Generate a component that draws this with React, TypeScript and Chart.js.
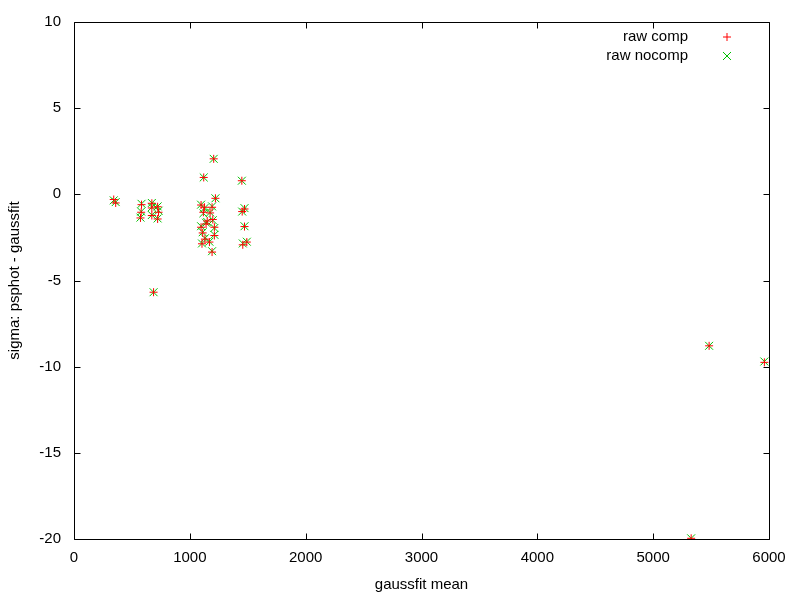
import React, { useEffect, useRef } from "react";
import { Chart, registerables } from "chart.js";

Chart.register(...registerables);

const xValues = [
  343, 360, 583, 580, 574, 672, 672, 672, 722, 730, 722, 687,
  1097, 1126, 1192, 1117, 1175, 1198, 1140, 1097, 1212, 1111, 1212, 1169, 1105, 1192,
  1221, 1120, 1206, 1150, 1130,
  1449, 1472, 1452, 1472, 1457, 1492,
  5483, 5960, 5328,
];
const compValues = [
  -0.3, -0.5, -0.6, -1.04, -1.37, -0.52, -0.79, -1.23, -0.72, -1.04, -1.43, -5.68,
  -0.62, -0.75, -0.75, -1.04, -1.08, -1.46, -1.72, -1.91, -1.91, -2.24, -2.39, -2.77, -2.87, -3.35,
  -0.23, 0.98, 2.06, -1.55, -2.6,
  0.79, -0.85, -1.0, -1.87, -2.93, -2.77,
  -8.79, -9.75, -19.96,
];
const nocompValues = [
  -0.35, -0.45, -0.55, -1.0, -1.35, -0.5, -0.75, -1.2, -0.7, -0.95, -1.4, -5.68,
  -0.6, -0.8, -0.7, -1.1, -1.05, -1.5, -1.65, -1.85, -1.95, -2.2, -2.35, -2.75, -2.85, -3.3,
  -0.23, 0.98, 2.06, -1.6, -2.55,
  0.79, -0.8, -1.0, -1.85, -2.85, -2.75,
  -8.79, -9.7, -19.96,
];
const xTicks = [0, 1000, 2000, 3000, 4000, 5000, 6000];
const yTicks = [-20, -15, -10, -5, 0, 5, 10];
const seriesLabels = ["raw comp", "raw nocomp"];
const seriesColors = ["#ff0000", "#00c000"];
const seriesStyles = ["cross", "crossRot"];
const seriesRadius = [4, 5.6];
const xTitle = "gaussfit mean";
const yTitle = "sigma: psphot - gaussfit";

const FONT = '"Liberation Sans", Arial, sans-serif';

const framePlugin = {
  id: "gnuFrame",
  afterDatasetsDraw(chart: any) {
    const { ctx, chartArea, scales } = chart;
    const { left, right, top, bottom } = chartArea;
    const xs = scales.x;
    const ys = scales.y;
    const L = Math.round(left) + 0.5;
    const R = Math.round(right) + 0.5;
    const T = Math.round(top) + 0.5;
    const B = Math.round(bottom) + 0.5;
    const tl = 6;
    ctx.save();
    ctx.strokeStyle = "#000";
    ctx.lineWidth = 1;
    ctx.beginPath();
    ctx.rect(L, T, R - L, B - T);
    xs.ticks.forEach((t: any) => {
      const px = Math.round(xs.getPixelForValue(t.value)) + 0.5;
      ctx.moveTo(px, B);
      ctx.lineTo(px, B - tl);
      ctx.moveTo(px, T);
      ctx.lineTo(px, T + tl);
    });
    ys.ticks.forEach((t: any) => {
      const py = Math.round(ys.getPixelForValue(t.value)) + 0.5;
      ctx.moveTo(L, py);
      ctx.lineTo(L + tl, py);
      ctx.moveTo(R, py);
      ctx.lineTo(R - tl, py);
    });
    ctx.stroke();

    // key (gnuplot style: text then symbol on the right)
    ctx.font = `15px ${FONT}`;
    ctx.fillStyle = "#000";
    ctx.textAlign = "right";
    ctx.textBaseline = "middle";
    chart.data.datasets.forEach((ds: any, i: number) => {
      const y = top + 15 + i * 19;
      const tx = right - 81;
      ctx.fillText(ds.label, tx, y);
      const mx = right - 42;
      const r = 4;
      ctx.strokeStyle = ds.borderColor;
      ctx.beginPath();
      if (ds.pointStyle === "cross") {
        ctx.moveTo(mx - r, y);
        ctx.lineTo(mx + r, y);
        ctx.moveTo(mx, y - r);
        ctx.lineTo(mx, y + r);
      } else {
        ctx.moveTo(mx - r, y - r);
        ctx.lineTo(mx + r, y + r);
        ctx.moveTo(mx - r, y + r);
        ctx.lineTo(mx + r, y - r);
      }
      ctx.stroke();
    });
    ctx.restore();
  },
};

export default function App() {
  const ref = useRef<HTMLCanvasElement | null>(null);
  useEffect(() => {
    document.body.style.margin = "0";
    const canvas = ref.current;
    if (!canvas) return;
    const series = [compValues, nocompValues];
    const chart = new Chart(canvas, {
      type: "scatter",
      data: {
        datasets: series.map((vals, i) => ({
          label: seriesLabels[i],
          data: xValues.map((x, j) => ({ x, y: vals[j] })),
          pointStyle: seriesStyles[i] as any,
          pointRadius: seriesRadius[i],
          pointHoverRadius: seriesRadius[i],
          borderColor: seriesColors[i],
          backgroundColor: seriesColors[i],
          borderWidth: 1,
          showLine: false,
        })),
      },
      options: {
        responsive: false,
        animation: false,
        events: [],
        layout: { padding: { left: 0, right: 31, top: 20, bottom: 0 } },
        plugins: {
          legend: { display: false },
          tooltip: { enabled: false },
        },
        scales: {
          x: {
            type: "linear",
            min: 0,
            max: 6000,
            afterBuildTicks: (s: any) => {
              s.ticks = xTicks.map((v) => ({ value: v }));
            },
            afterFit: (s: any) => {
              s.height = 61;
            },
            grid: { display: false, drawTicks: false },
            border: { display: false },
            ticks: {
              padding: 10,
              color: "#000",
              font: { family: FONT, size: 15 },
              callback: (v: any) => String(v),
              maxRotation: 0,
              autoSkip: false,
            },
            title: {
              display: true,
              text: xTitle,
              color: "#000",
              font: { family: FONT, size: 15 },
              padding: { top: 0, bottom: 6 },
            },
          },
          y: {
            type: "linear",
            min: -20,
            max: 10,
            afterBuildTicks: (s: any) => {
              s.ticks = yTicks.map((v) => ({ value: v }));
            },
            afterFit: (s: any) => {
              s.width = 74;
            },
            grid: { display: false, drawTicks: false },
            border: { display: false },
            ticks: {
              padding: 13,
              color: "#000",
              font: { family: FONT, size: 15 },
              callback: (v: any) => String(v),
              autoSkip: false,
            },
            title: {
              display: true,
              text: yTitle,
              color: "#000",
              font: { family: FONT, size: 15 },
              padding: { top: 6, bottom: 0 },
            },
          },
        },
      },
      plugins: [framePlugin],
    });
    return () => chart.destroy();
  }, []);
  return (
    <div style={{ position: "absolute", left: 0, top: 0, width: 800, height: 600, background: "#fff" }}>
      <canvas ref={ref} width={800} height={600} />
    </div>
  );
}
